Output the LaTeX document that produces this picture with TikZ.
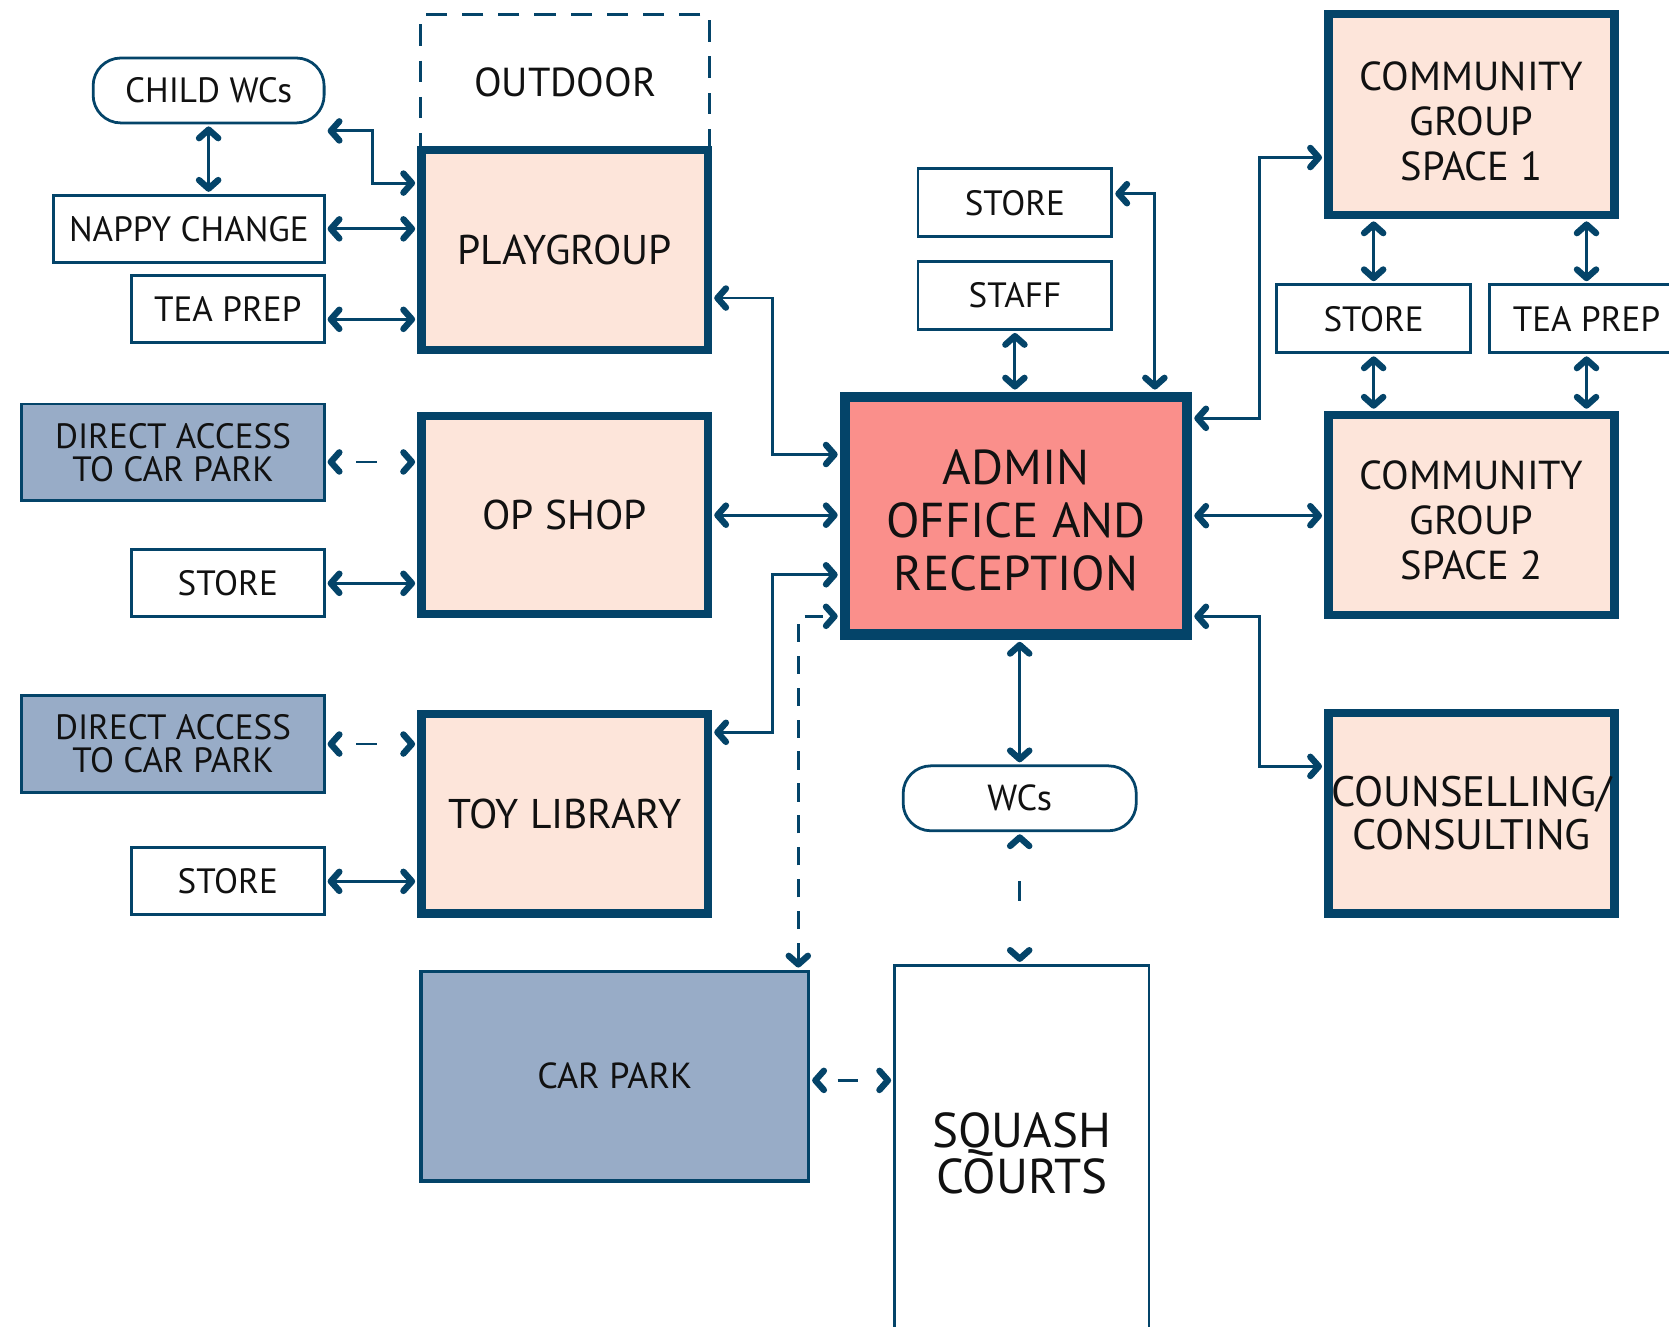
\documentclass[tikz,border=0pt]{standalone}
\usepackage{fontspec}
\setmainfont{PT Sans}
\usetikzlibrary{arrows.meta}
\definecolor{dblue}{HTML}{044469}
\definecolor{peach}{HTML}{FDE5DA}
\definecolor{salmon}{HTML}{FA8F8B}
\definecolor{slate}{HTML}{98ACC7}
\definecolor{ink}{HTML}{111111}
\begin{document}
\begin{tikzpicture}[x=0.5pt,y=-0.5pt,
  base/.style={text=ink, align=center, inner sep=0pt},
  small/.style={base, draw=dblue, line width=1.3pt, fill=white, font=\fontsize{16.5}{15.5}\selectfont},
  pill/.style={small, rounded corners=13pt},
  access/.style={small, fill=slate},
  room/.style={base, draw=dblue, line width=4pt, fill=peach, font=\fontsize{19.5}{21}\selectfont},
  >={Straight Barb[length=4pt,width=9pt,line width=3pt 0, round=false]},
  conn/.style={draw=dblue, line width=1.35pt, <->, shorten <=1pt, shorten >=1pt},
  dconn/.style={conn, dash pattern=on 8.5pt off 6.5pt},
  onedash/.style={conn, dash pattern=on 0pt off #1 on 9.5pt off 200pt},
]
\path[use as bounding box] (0,0) rectangle (1568,1246);
\clip (0,0) rectangle (1568,1246);

% left column
\node[base, draw=dblue, line width=1.4pt, dash pattern=on 10pt off 7pt, minimum width=136pt, minimum height=63.5pt, font=\fontsize{19}{21}\selectfont] (outdoor) at (531,77.5) {OUTDOOR};
\node[room, minimum width=134.5pt, minimum height=94pt] (playgroup) at (530.5,235) {PLAYGROUP};
\node[room, minimum width=134.5pt, minimum height=93pt] (opshop) at (530.5,484) {OP SHOP};
\node[room, minimum width=134.5pt, minimum height=93.5pt] (toylib) at (530.5,764.5) {TOY LIBRARY};

\node[pill, minimum width=108.5pt, minimum height=30.5pt] (childwc) at (196,85) {CHILD WCs};
\node[small, minimum width=127pt, minimum height=31.5pt] (nappy) at (177.5,215) {NAPPY CHANGE};
\node[small, minimum width=90.5pt, minimum height=31.5pt] (teaL) at (214,290) {TEA PREP};
\node[access, minimum width=142pt, minimum height=45.5pt] (dacc1) at (162.5,425) {DIRECT ACCESS\\TO CAR PARK};
\node[small, minimum width=90.5pt, minimum height=31.5pt] (storeL1) at (214,548) {STORE};
\node[access, minimum width=142pt, minimum height=45.5pt] (dacc2) at (162.5,699) {DIRECT ACCESS\\TO CAR PARK};
\node[small, minimum width=90.5pt, minimum height=31.5pt] (storeL2) at (214,828) {STORE};

% centre
\node[base, draw=dblue, line width=5pt, fill=salmon, minimum width=160.5pt, minimum height=111.5pt, font=\fontsize{23}{25}\selectfont] (admin) at (954.5,484.5) {\rule{0pt}{21pt}ADMIN\\OFFICE AND\\RECEPTION};
\node[small, minimum width=91pt, minimum height=32pt] (storeM) at (953.5,190.5) {STORE};
\node[small, minimum width=91pt, minimum height=32pt] (staff) at (953.5,277.5) {STAFF};
\node[pill, minimum width=109.5pt, minimum height=30.5pt, font=\fontsize{17}{17}\selectfont] (wcs) at (958,750) {WCs};
\node[small, fill=slate, line width=1.5pt, minimum width=182pt, minimum height=98.5pt, font=\fontsize{17}{17}\selectfont] (carpark) at (577.5,1011) {CAR PARK};
\node[small, minimum width=119.5pt, minimum height=176.5pt, font=\fontsize{23}{22}\selectfont] (squash) at (960,1083.5) {SQUASH\\COURTS};

% right
\node[room, minimum width=134.5pt, minimum height=94.5pt, font=\fontsize{19}{21}\selectfont] (cgs1) at (1382.5,107.5) {\rule{0pt}{20pt}COMMUNITY\\GROUP\\SPACE 1};
\node[room, minimum width=134.5pt, minimum height=94pt, font=\fontsize{19}{21}\selectfont] (cgs2) at (1382.5,484) {\rule{0pt}{18.5pt}COMMUNITY\\GROUP\\SPACE 2};
\node[room, minimum width=134.5pt, minimum height=94pt, font=\fontsize{20}{20.5}\selectfont] (couns) at (1382.5,764) {COUNSELLING/\\CONSULTING};
\node[small, minimum width=91pt, minimum height=32pt] (storeR) at (1290.5,299.5) {STORE};
\node[small, minimum width=91pt, minimum height=32pt] (teaR) at (1490.5,299.5) {TEA PREP};

% connectors left
\draw[conn] (childwc.south) -- (nappy.north -| childwc.south);
\draw[conn] (childwc.east |- 0,123) -| (350,172) -- (playgroup.west |- 0,172);
\draw[conn] (nappy.east) -- (nappy.east -| playgroup.west);
\draw[conn] (teaL.east |- 0,300) -- (playgroup.west |- 0,300);
\draw[onedash=10.5pt] (dacc1.east |- 0,434) -- (opshop.west |- 0,434);
\draw[conn] (storeL1.east) -- (storeL1.east -| opshop.west);
\draw[onedash=10.5pt] (dacc2.east) -- (dacc2.east -| toylib.west);
\draw[conn] (storeL2.east) -- (storeL2.east -| toylib.west);

% connectors to admin
\draw[conn] (playgroup.east |- 0,280) -| (726,427) -- (admin.west |- 0,427);
\draw[conn] (opshop.east) -- (opshop.east -| admin.west);
\draw[conn] (toylib.east |- 0,688) -| (726,540) -- (admin.west |- 0,540);
\draw[dconn] (carpark.north -| 750,0) |- (admin.west |- 0,579);
\draw[conn] (storeM.east |- 0,182) -| (admin.north -| 1085,0);
\draw[conn] (staff.south) -- (staff.south |- admin.north);
\draw[conn] (admin.east |- 0,393) -| (1183,148) -- (cgs1.west |- 0,148);
\draw[conn] (admin.east) -- (admin.east -| cgs2.west);
\draw[conn] (admin.east |- 0,579) -| (1183,720) -- (couns.west |- 0,720);
\draw[conn] (admin.south -| wcs.north) -- (wcs.north);
\draw[onedash=19pt] (wcs.south) -- (wcs.south |- squash.north);
\draw[onedash=9pt] (carpark.east |- 0,1015) -- (squash.west |- 0,1015);

% right connectors
\draw[conn] (cgs1.south -| storeR.north) -- (storeR.north);
\draw[conn] (cgs1.south -| teaR.north) -- (teaR.north);
\draw[conn] (storeR.south) -- (storeR.south |- cgs2.north);
\draw[conn] (teaR.south) -- (teaR.south |- cgs2.north);
\end{tikzpicture}
\end{document}
